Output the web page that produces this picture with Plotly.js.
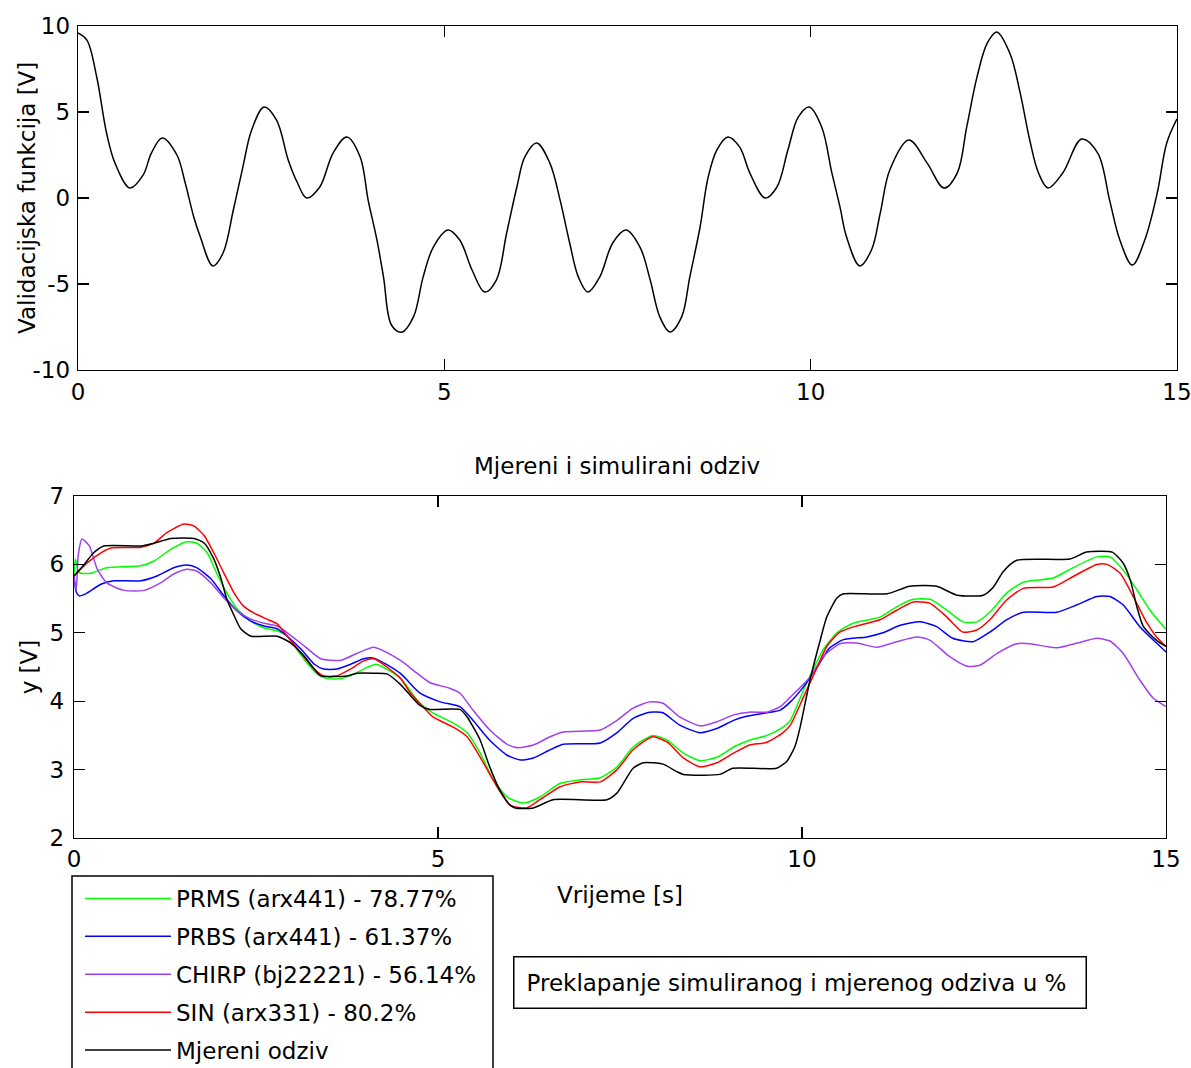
<!DOCTYPE html>
<html>
<head>
<meta charset="utf-8">
<script src="https://cdn.plot.ly/plotly-3.0.1.min.js"></script>
<style>html,body{margin:0;padding:0;background:#fff;}#chart{width:1191px;height:1068px;}</style>
</head>
<body>
<div id="chart"></div>
<script>
// ---------- Top panel: validation input signal ----------
var tTop = [0, 0.12, 0.255, 0.39, 0.505, 0.71, 0.89, 1.0, 1.15, 1.35, 1.46, 1.58, 1.67, 1.84, 1.98, 2.12, 2.25, 2.37, 2.54, 2.71, 2.87, 2.99, 3.12, 3.30, 3.48, 3.67, 3.85, 3.96, 4.08, 4.17, 4.28, 4.42, 4.58, 4.71, 4.85, 5.05, 5.21, 5.38, 5.55, 5.71, 5.85, 5.99, 6.10, 6.26, 6.44, 6.58, 6.71, 6.83, 6.96, 7.12, 7.30, 7.48, 7.67, 7.81, 7.94, 8.08, 8.24, 8.35, 8.49, 8.60, 8.72, 8.87, 9.03, 9.17, 9.38, 9.54, 9.69, 9.83, 9.98, 10.15, 10.29, 10.40, 10.49, 10.67, 10.83, 10.95, 11.08, 11.34, 11.59, 11.82, 12.0, 12.13, 12.27, 12.41, 12.54, 12.72, 12.86, 12.99, 13.11, 13.24, 13.44, 13.70, 13.92, 14.08, 14.22, 14.39, 14.56, 14.73, 14.86, 15.0];
var vTop = [9.6, 9.19, 7.05, 3.78, 2.03, 0.58, 1.34, 2.6, 3.49, 2.5, 0.93, -1.1, -2.27, -3.95, -3.2, -0.7, 1.8, 3.95, 5.29, 4.53, 2.2, 0.93, 0.0, 0.64, 2.6, 3.55, 2.4, -0.12, -2.44, -4.6, -7.4, -7.8, -6.9, -4.6, -2.85, -1.86, -2.44, -4.2, -5.47, -4.77, -2.05, 0.64, 2.4, 3.2, 2.03, -0.12, -2.6, -4.6, -5.47, -4.6, -2.6, -1.86, -2.85, -4.77, -6.9, -7.79, -6.9, -4.6, -1.7, 1.2, 2.8, 3.55, 2.97, 1.45, 0.0, 0.64, 2.8, 4.7, 5.29, 4.13, 1.45, -0.52, -2.27, -3.95, -3.02, -0.87, 1.63, 3.37, 2.03, 0.58, 1.45, 4.13, 7.03, 9.0, 9.65, 8.4, 6.1, 3.37, 1.45, 0.58, 1.45, 3.43, 2.6, -0.12, -2.44, -3.9, -2.44, 0.29, 3.2, 4.6];

// ---------- Bottom panel: measured and simulated responses ----------
var seriesNames = ["PRMS (arx441) - 78.77%", "PRBS (arx441) - 61.37%", "CHIRP (bj22221) - 56.14%", "SIN (arx331) - 80.2%", "Mjereni odziv"];
var seriesColors = ["#00ff00", "#0000ff", "#a040f0", "#ff0000", "#000000"];

var tPRMS = [0, 0.02, 0.07, 0.23, 0.45, 0.92, 1.10, 1.33, 1.55, 1.69, 1.83, 1.96, 2.10, 2.24, 2.43, 2.61, 2.79, 2.93, 3.06, 3.20, 3.34, 3.48, 3.67, 3.85, 4.02, 4.15, 4.48, 4.75, 4.93, 5.21, 5.40, 5.58, 5.76, 5.95, 6.17, 6.40, 6.68, 6.95, 7.23, 7.46, 7.68, 7.95, 8.15, 8.37, 8.6, 8.83, 9.06, 9.28, 9.52, 9.74, 9.84, 10.02, 10.15, 10.29, 10.48, 10.70, 11.07, 11.30, 11.53, 11.76, 11.99, 12.21, 12.40, 12.58, 12.81, 13.04, 13.45, 13.72, 14.05, 14.23, 14.41, 14.60, 14.78, 15.0];
var yPRMS = [5.83, 6.08, 5.88, 5.87, 5.95, 5.98, 6.05, 6.22, 6.33, 6.31, 6.17, 5.87, 5.58, 5.35, 5.17, 5.07, 5.03, 4.95, 4.76, 4.56, 4.4, 4.33, 4.33, 4.4, 4.49, 4.54, 4.34, 3.97, 3.83, 3.68, 3.54, 3.24, 2.85, 2.6, 2.51, 2.6, 2.8, 2.85, 2.88, 3.04, 3.33, 3.5, 3.43, 3.24, 3.13, 3.18, 3.33, 3.43, 3.5, 3.62, 3.72, 4.16, 4.46, 4.75, 5.0, 5.14, 5.23, 5.38, 5.49, 5.49, 5.33, 5.16, 5.16, 5.3, 5.58, 5.74, 5.8, 5.95, 6.11, 6.11, 5.92, 5.63, 5.33, 5.05];

var tPRBS = [0, 0.03, 0.07, 0.16, 0.37, 0.55, 0.92, 1.14, 1.37, 1.55, 1.69, 1.88, 2.06, 2.24, 2.43, 2.61, 2.79, 2.93, 3.12, 3.30, 3.43, 3.61, 3.80, 3.98, 4.12, 4.48, 4.75, 5.03, 5.30, 5.48, 5.71, 5.95, 6.13, 6.31, 6.54, 6.72, 7.23, 7.46, 7.68, 7.91, 8.09, 8.32, 8.6, 8.83, 9.06, 9.24, 9.52, 9.70, 9.84, 10.02, 10.21, 10.38, 10.57, 10.89, 11.11, 11.35, 11.62, 11.85, 12.07, 12.35, 12.58, 12.81, 13.04, 13.50, 13.78, 14.05, 14.23, 14.41, 14.64, 14.87, 15.0];
var yPRBS = [5.83, 5.6, 5.54, 5.57, 5.71, 5.76, 5.76, 5.83, 5.95, 5.99, 5.95, 5.79, 5.54, 5.32, 5.17, 5.1, 5.06, 4.95, 4.76, 4.54, 4.47, 4.47, 4.54, 4.62, 4.63, 4.41, 4.12, 3.99, 3.92, 3.72, 3.43, 3.21, 3.14, 3.17, 3.29, 3.37, 3.39, 3.54, 3.75, 3.84, 3.83, 3.65, 3.54, 3.6, 3.72, 3.78, 3.83, 3.87, 3.99, 4.21, 4.5, 4.78, 4.9, 4.94, 5.0, 5.11, 5.16, 5.09, 4.92, 4.87, 5.01, 5.19, 5.3, 5.3, 5.41, 5.53, 5.53, 5.41, 5.09, 4.85, 4.72];

var tCHIRP = [0, 0.03, 0.06, 0.11, 0.21, 0.32, 0.45, 0.69, 0.96, 1.19, 1.37, 1.55, 1.69, 1.88, 2.06, 2.24, 2.43, 2.61, 2.79, 2.93, 3.16, 3.39, 3.67, 3.89, 4.12, 4.48, 4.71, 4.89, 5.16, 5.30, 5.48, 5.71, 5.95, 6.10, 6.31, 6.54, 6.72, 7.23, 7.46, 7.68, 7.91, 8.09, 8.32, 8.6, 8.83, 9.06, 9.28, 9.52, 9.70, 9.84, 10.11, 10.29, 10.52, 10.75, 11.03, 11.30, 11.58, 11.76, 12.03, 12.27, 12.45, 12.68, 12.95, 13.13, 13.50, 13.78, 14.05, 14.23, 14.41, 14.64, 14.82, 15.0];
var yCHIRP = [5.83, 5.62, 6.15, 6.37, 6.27, 5.93, 5.73, 5.62, 5.62, 5.73, 5.86, 5.93, 5.9, 5.73, 5.51, 5.32, 5.2, 5.14, 5.1, 5.0, 4.81, 4.62, 4.6, 4.7, 4.79, 4.6, 4.41, 4.27, 4.19, 4.12, 3.87, 3.58, 3.37, 3.32, 3.36, 3.48, 3.55, 3.58, 3.72, 3.9, 3.99, 3.97, 3.77, 3.64, 3.7, 3.8, 3.84, 3.84, 3.92, 4.06, 4.35, 4.65, 4.84, 4.85, 4.79, 4.87, 4.94, 4.89, 4.65, 4.51, 4.53, 4.7, 4.84, 4.84, 4.78, 4.85, 4.92, 4.88, 4.7, 4.31, 4.05, 3.92];

var tSIN = [0, 0.18, 0.37, 0.51, 0.92, 1.10, 1.27, 1.51, 1.65, 1.79, 1.92, 2.06, 2.20, 2.33, 2.47, 2.65, 2.79, 2.93, 3.12, 3.30, 3.43, 3.61, 3.80, 3.98, 4.12, 4.48, 4.62, 4.75, 4.93, 5.21, 5.40, 5.58, 5.81, 5.99, 6.22, 6.40, 6.68, 6.95, 7.23, 7.46, 7.68, 7.95, 8.15, 8.37, 8.6, 8.83, 9.06, 9.28, 9.52, 9.74, 9.84, 10.02, 10.21, 10.34, 10.52, 10.75, 11.07, 11.30, 11.53, 11.76, 11.99, 12.21, 12.40, 12.58, 12.81, 13.04, 13.45, 13.72, 14.05, 14.19, 14.37, 14.55, 14.74, 14.87, 15.0];
var ySIN = [5.83, 6.02, 6.17, 6.24, 6.25, 6.31, 6.46, 6.59, 6.56, 6.42, 6.17, 5.87, 5.58, 5.39, 5.29, 5.2, 5.13, 4.95, 4.7, 4.47, 4.37, 4.37, 4.47, 4.59, 4.62, 4.34, 4.12, 3.97, 3.77, 3.62, 3.48, 3.18, 2.75, 2.48, 2.44, 2.56, 2.75, 2.82, 2.82, 3.0, 3.29, 3.48, 3.4, 3.17, 3.04, 3.1, 3.24, 3.36, 3.4, 3.54, 3.65, 4.06, 4.5, 4.8, 5.01, 5.1, 5.19, 5.33, 5.45, 5.43, 5.23, 5.01, 5.04, 5.19, 5.48, 5.65, 5.67, 5.82, 6.0, 6.0, 5.87, 5.53, 5.14, 4.94, 4.8];

var tMeas = [0, 0.14, 0.27, 0.41, 0.92, 1.10, 1.33, 1.65, 1.79, 1.92, 2.02, 2.10, 2.20, 2.29, 2.43, 2.79, 2.98, 3.16, 3.30, 3.39, 3.75, 3.89, 4.12, 4.30, 4.48, 4.75, 4.89, 5.30, 5.40, 5.58, 5.71, 5.85, 5.99, 6.06, 6.31, 6.58, 7.32, 7.46, 7.68, 7.82, 8.09, 8.28, 8.37, 8.87, 9.05, 9.65, 9.79, 9.90, 9.97, 10.11, 10.25, 10.34, 10.48, 10.57, 11.17, 11.48, 11.85, 12.13, 12.49, 12.63, 12.76, 12.95, 13.68, 13.91, 14.26, 14.41, 14.51, 14.60, 14.69, 14.87, 15.0];
var yMeas = [5.83, 6.0, 6.17, 6.27, 6.27, 6.31, 6.38, 6.38, 6.31, 6.08, 5.79, 5.49, 5.25, 5.06, 4.95, 4.95, 4.85, 4.66, 4.47, 4.37, 4.37, 4.41, 4.41, 4.40, 4.25, 3.94, 3.88, 3.88, 3.77, 3.43, 3.04, 2.70, 2.48, 2.44, 2.44, 2.56, 2.56, 2.66, 3.02, 3.1, 3.08, 2.97, 2.93, 2.93, 3.02, 3.02, 3.12, 3.33, 3.6, 4.31, 4.89, 5.23, 5.51, 5.57, 5.57, 5.68, 5.68, 5.55, 5.55, 5.67, 5.89, 6.06, 6.08, 6.18, 6.18, 6.02, 5.77, 5.38, 5.09, 4.89, 4.8];

var xTicks = [0, 5, 10, 15];
var xTickText = ["0", "5", "10", "15"];
var yTicksTop = [-10, -5, 0, 5, 10];
var yTickTextTop = ["-10", "-5", "0", "5", "10"];
var yTicksBottom = [2, 3, 4, 5, 6, 7];
var yTickTextBottom = ["2", "3", "4", "5", "6", "7"];

var topYTitle = "Validacijska funkcija [V]";
var bottomTitle = "Mjereni i simulirani odziv";
var noteText = "Preklapanje simuliranog i mjerenog odziva u %";

// ---------- figure ----------
var W = 1191, H = 1068;
var FONT = "DejaVu Sans, Liberation Sans, Arial, sans-serif";
var FS = 23;

var bottomX = [tPRMS, tPRBS, tCHIRP, tSIN, tMeas];
var bottomY = [yPRMS, yPRBS, yCHIRP, ySIN, yMeas];

var traces = [{
  x: tTop, y: vTop, xaxis: 'x', yaxis: 'y', type: 'scatter', mode: 'lines',
  line: {color: '#000', width: 1.5, shape: 'spline', smoothing: 1}, showlegend: false, hoverinfo: 'skip'
}];
for (var i = 0; i < seriesNames.length; i++) {
  traces.push({
    x: bottomX[i], y: bottomY[i], xaxis: 'x2', yaxis: 'y2', type: 'scatter', mode: 'lines',
    name: seriesNames[i], legendgroup: 'g' + i,
    line: {color: seriesColors[i], width: 1.5, shape: 'spline', smoothing: 0.6}
  });
}

function axisBase() {
  return {
    showline: true, mirror: 'ticks', linecolor: '#000', linewidth: 1.3,
    ticks: 'inside', ticklen: 11, tickwidth: 1.3, tickcolor: '#000',
    showgrid: false, zeroline: false, fixedrange: true, automargin: false,
    ticklabeloverflow: 'allow',
    tickfont: {family: FONT, size: FS, color: '#000'}
  };
}

var xa = axisBase();
Object.assign(xa, {domain: [78 / W, 1177 / W], range: [0, 15], tickvals: xTicks, ticktext: xTickText, anchor: 'y', ticklabelstandoff: 1});
var ya = axisBase();
Object.assign(ya, {domain: [1 - 370 / H, 1 - 26 / H], range: [-10, 10], tickvals: yTicksTop, ticktext: yTickTextTop, anchor: 'x', ticklabelstandoff: 2});
var xa2 = axisBase();
Object.assign(xa2, {domain: [74 / W, 1166 / W], range: [0, 15], tickvals: xTicks, ticktext: xTickText, anchor: 'y2', ticklabelstandoff: 0,
  title: {text: 'Vrijeme [s]', font: {family: FONT, size: FS, color: '#000'}, standoff: 16}});
var ya2 = axisBase();
Object.assign(ya2, {domain: [1 - 838 / H, 1 - 496 / H], range: [2, 7], tickvals: yTicksBottom, ticktext: yTickTextBottom, anchor: 'x2', ticklabelstandoff: 4,
  title: {text: 'y [V]', font: {family: FONT, size: FS, color: '#000'}, standoff: 5}});

var layout = {
  width: W, height: H,
  margin: {l: 0, r: 0, t: 0, b: 0, pad: 0, autoexpand: false},
  paper_bgcolor: '#fff', plot_bgcolor: '#fff',
  font: {family: FONT, size: FS, color: '#000'},
  xaxis: xa, yaxis: ya, xaxis2: xa2, yaxis2: ya2,
  showlegend: true,
  legend: {
    x: 80 / W, y: 1 - 877 / H, xanchor: 'left', yanchor: 'top',
    bgcolor: 'rgba(0,0,0,0)', borderwidth: 0,
    font: {family: FONT, size: FS, color: '#000'},
    traceorder: 'grouped', tracegroupgap: 5, itemwidth: 86
  },
  shapes: [
    {type: 'rect', xref: 'paper', yref: 'paper', x0: 72 / W, x1: 493 / W, y0: -0.05, y1: 1 - 876 / H,
     line: {color: '#000', width: 1.5}, fillcolor: 'rgba(0,0,0,0)', layer: 'below'}
  ],
  annotations: [
    {text: topYTitle, xref: 'paper', yref: 'paper', x: 27 / W, y: 1 - 198 / H, textangle: -90,
     xanchor: 'center', yanchor: 'middle', showarrow: false, font: {family: FONT, size: FS, color: '#000'}},
    {text: bottomTitle, xref: 'paper', yref: 'paper', x: 617 / W, y: 1 - 466 / H,
     xanchor: 'center', yanchor: 'middle', showarrow: false, font: {family: FONT, size: FS, color: '#000'}},
    {text: noteText, xref: 'paper', yref: 'paper', x: 799.5 / W, y: 1 - 982.5 / H,
     xanchor: 'center', yanchor: 'middle', showarrow: false, align: 'left', width: 547,
     bordercolor: '#000', borderwidth: 1.5, borderpad: 12, bgcolor: '#fff',
     font: {family: FONT, size: FS, color: '#000'}}
  ]
};

Plotly.newPlot('chart', traces, layout, {displayModeBar: false, staticPlot: true});
</script>
</body>
</html>
